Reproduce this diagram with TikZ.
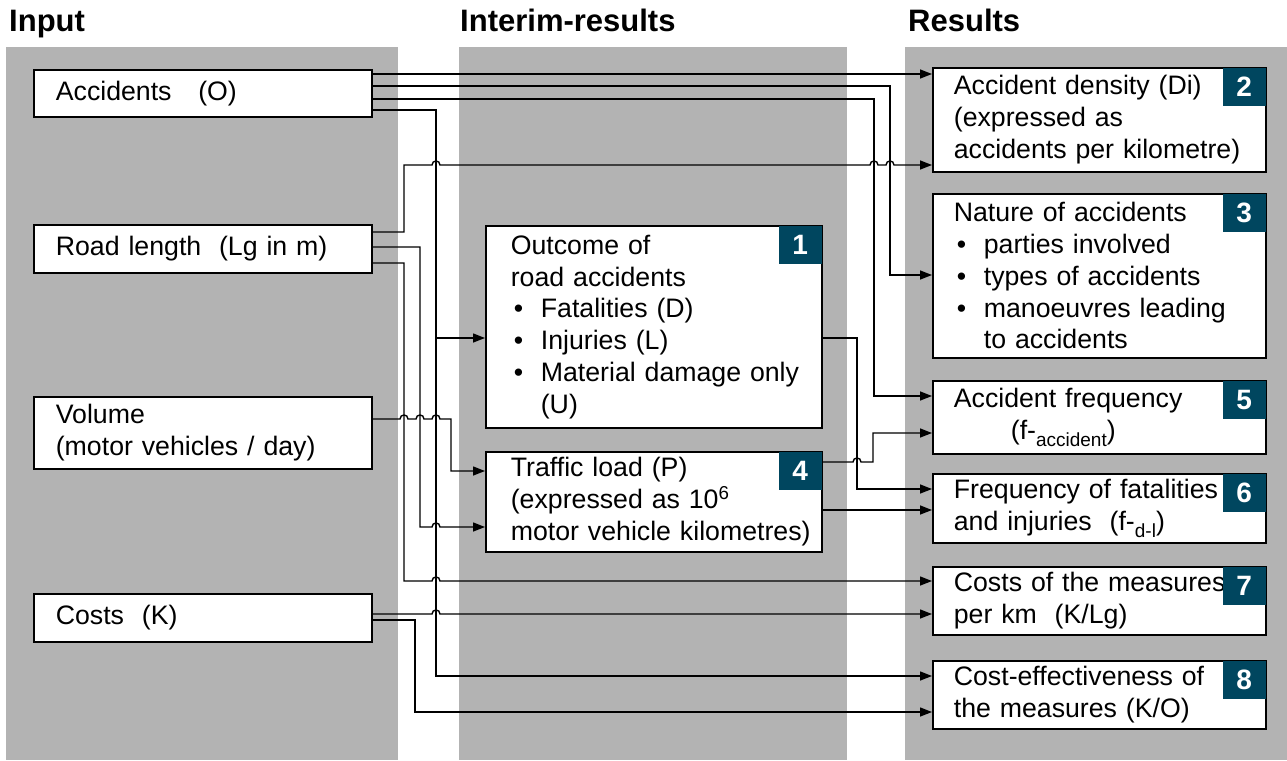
\documentclass[tikz,border=0pt]{standalone}
\usepackage{fontspec}
\setmainfont{Liberation Sans}
\usetikzlibrary{arrows.meta}
\definecolor{panelgray}{RGB}{179,179,179}
\definecolor{badgeblue}{RGB}{0,70,95}
\newcommand\lowidx[1]{\raisebox{-0.28em}{\fontsize{19}{19}\selectfont #1}}
\newcommand\bul[1]{\makebox[30pt][l]{\hspace{3pt}\textbullet}#1}
\begin{document}
\begin{tikzpicture}[x=1pt,y=-1pt,
  panel/.style={fill=panelgray,draw=none},
  title/.style={anchor=base west,font=\bfseries\fontsize{31}{31}\selectfont,inner sep=0pt},
  box/.style={draw=black,line width=1.7pt,fill=white,anchor=north west,
    inner xsep=0pt,inner ysep=0pt,align=left,
    font=\fontsize{26.7}{31.8}\selectfont},
  inbox/.style={box,text width=338pt,execute at begin node={\leftskip=22pt}},
  midbox/.style={box,text width=336pt,execute at begin node={\leftskip=25pt}},
  resbox/.style={box,text width=333pt,execute at begin node={\leftskip=21pt}},
  badge/.style={fill=badgeblue,text=white,font=\bfseries\fontsize{28}{28}\selectfont,
    minimum width=43pt,minimum height=38pt,inner sep=0pt,anchor=north east},
  conn/.style={line width=1.4pt,-{Triangle[length=12pt,width=9pt]}},
  hop/.style args={#1/#2}{insert path={-- (#1-4,#2) .. controls +(0,-5.3) and +(0,-5.3) .. (#1+4,#2)}}
]
\useasboundingbox (0,0) rectangle (1287,760);
% panels
\fill[panel] (6,47) rectangle (398,760);
\fill[panel] (459,47) rectangle (847,760);
\fill[panel] (905,47) rectangle (1287,760);
% titles
\node[title] (tin) at (9,32) {Input};
\node[title] (tmid) at (460,32) {Interim-results};
\node[title] (tres) at (908,32) {Results};
% input boxes
\node[inbox,minimum height=47pt] (A) at (33,69) {Accidents\ \ \ (O)};
\node[inbox,minimum height=48pt] (L) at (33,224) {Road length\ \ (Lg in m)};
\node[inbox,minimum height=72pt] (V) at (33,396) {Volume\\(motor vehicles / day)};
\node[inbox,minimum height=48pt] (C) at (33,593) {Costs\ \ (K)};
% interim boxes
\node[midbox,minimum height=202pt] (I1) at (485,225)
  {Outcome of\\road accidents\\\bul{Fatalities (D)}\\\bul{Injuries (L)}\\\bul{Material damage only}\\\hspace*{30pt}(U)};
\node[midbox,minimum height=100pt] (I4) at (485,451)
  {Traffic load (P)\\(expressed as 10\textsuperscript{6}\\motor vehicle kilometres)};
% result boxes
\node[resbox,minimum height=104pt] (R2) at (932,67)
  {Accident density (Di)\\(expressed as\\accidents per kilometre)};
\node[resbox,minimum height=164pt] (R3) at (932,193)
  {Nature of accidents\\\bul{parties involved}\\\bul{types of accidents}\\\bul{manoeuvres leading}\\\hspace*{30pt}to accidents};
\node[resbox,minimum height=73pt] (R5) at (932,380)
  {Accident frequency\\\hspace*{57pt}(f-\lowidx{accident})};
\node[resbox,minimum height=69pt] (R6) at (932,473)
  {Frequency of fatalities\\and injuries\ \ (f-\lowidx{d-l})};
\node[resbox,minimum height=68pt] (R7) at (932,566)
  {Costs of the measures\\per km\ \ (K/Lg)};
\node[resbox,minimum height=68pt] (R8) at (932,660)
  {Cost-effectiveness of\\the measures (K/O)};
% badges
\node[badge] (b1) at ([xshift=-0.85pt,yshift=-0.85pt]I1.north east) {1};
\node[badge] (b4) at ([xshift=-0.85pt,yshift=-0.85pt]I4.north east) {4};
\node[badge] (b2) at ([xshift=-0.85pt,yshift=-0.85pt]R2.north east) {2};
\node[badge] (b3) at ([xshift=-0.85pt,yshift=-0.85pt]R3.north east) {3};
\node[badge] (b5) at ([xshift=-0.85pt,yshift=-0.85pt]R5.north east) {5};
\node[badge] (b6) at ([xshift=-0.85pt,yshift=-0.85pt]R6.north east) {6};
\node[badge] (b7) at ([xshift=-0.85pt,yshift=-0.85pt]R7.north east) {7};
\node[badge] (b8) at ([xshift=-0.85pt,yshift=-0.85pt]R8.north east) {8};
% connectors from Accidents
\draw[conn] (A.east |- 0,74) -- (R2.west |- 0,74);
\draw[conn] (A.east |- 0,86) -| (890,275) -- (R3.west |- 0,275);
\draw[conn] (A.east |- 0,99) -| (874,396) -- (R5.west |- 0,396);
\coordinate (j1) at (436,338);
\draw[conn] (A.east |- 0,110) -| (436,676) -- (R8.west |- 0,676);
\draw[conn] (j1) -- (I1.west |- j1);
% connectors from Road length
\draw[conn] (L.east |- 0,232) -| (404,165) [hop=436/165] [hop=874/165] [hop=890/165] -- (R2.west |- 0,165);
\draw[conn] (L.east |- 0,247) -| (420,527) [hop=436/527] -- (I4.west |- 0,527);
\draw[conn] (L.east |- 0,263) -| (404,581) [hop=436/581] -- (R7.west |- 0,581);
% connector from Volume
\draw[conn] (V.east |- 0,419) [hop=404/419] [hop=420/419] [hop=436/419] -| (451,471) -- (I4.west |- 0,471);
% connectors from Costs
\draw[conn] (C.east |- 0,614) [hop=436/614] -- (R7.west |- 0,614);
\draw[conn] (C.east |- 0,620) -| (415,712) -- (R8.west |- 0,712);
% connectors from interim results
\draw[conn] (I1.east |- 0,338) -| (857,489) -- (R6.west |- 0,489);
\draw[conn] (I4.east |- 0,462) [hop=857/462] -| (873,433) -- (R5.west |- 0,433);
\draw[conn] (I4.east |- 0,510) -- (R6.west |- 0,510);
\end{tikzpicture}
\end{document}
